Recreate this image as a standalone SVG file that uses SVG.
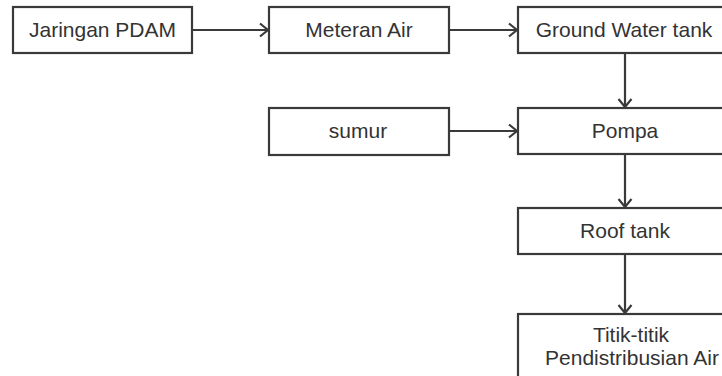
<svg xmlns="http://www.w3.org/2000/svg" width="722" height="376" viewBox="0 0 722 376">
  <style>
    .box { fill: #ffffff; stroke: #3a3a3a; stroke-width: 2.2; }
    .lbl { font-family: "Liberation Sans", Arial, sans-serif; font-size: 21px; fill: #333333; text-anchor: middle; }
    .edge { stroke: #3a3a3a; stroke-width: 2.2; fill: none; marker-end: url(#chev); }
  </style>
  <defs>
    <marker id="chev" viewBox="-11 -9 13 18" markerWidth="13" markerHeight="18" refX="0" refY="0" orient="auto" markerUnits="userSpaceOnUse">
      <path d="M-8,-6.5 L0,0 L-8,6.5" fill="none" stroke="#3a3a3a" stroke-width="2.2"/>
    </marker>
  </defs>
  <rect width="722" height="376" fill="#ffffff"/>

  <g id="connectors">
    <line class="edge" x1="192" y1="30" x2="268" y2="30"/>
    <line class="edge" x1="449" y1="30" x2="517" y2="30"/>
    <line class="edge" x1="449" y1="131" x2="517" y2="131"/>
    <line class="edge" x1="625" y1="53" x2="625" y2="107"/>
    <line class="edge" x1="625" y1="154" x2="625" y2="207"/>
    <line class="edge" x1="625" y1="254" x2="625" y2="313"/>
  </g>

  <g id="jaringan-pdam">
    <rect class="box" x="13" y="7" width="179" height="46"/>
    <text class="lbl" x="102.5" y="37">Jaringan PDAM</text>
  </g>
  <g id="meteran-air">
    <rect class="box" x="269" y="7" width="180" height="46"/>
    <text class="lbl" x="359" y="37">Meteran Air</text>
  </g>
  <g id="ground-water-tank">
    <rect class="box" x="518" y="7" width="214" height="46"/>
    <text class="lbl" x="624" y="37">Ground Water tank</text>
  </g>
  <g id="sumur">
    <rect class="box" x="269" y="108" width="180" height="47"/>
    <text class="lbl" x="358" y="138">sumur</text>
  </g>
  <g id="pompa">
    <rect class="box" x="518" y="108" width="214" height="46"/>
    <text class="lbl" x="625" y="138">Pompa</text>
  </g>
  <g id="roof-tank">
    <rect class="box" x="518" y="208" width="214" height="46"/>
    <text class="lbl" x="625" y="238">Roof tank</text>
  </g>
  <g id="titik-distribusi">
    <rect class="box" x="518" y="314" width="214" height="72"/>
    <text class="lbl" x="631" y="342">Titik-titik</text>
    <text class="lbl" x="632" y="365">Pendistribusian Air</text>
  </g>
</svg>
